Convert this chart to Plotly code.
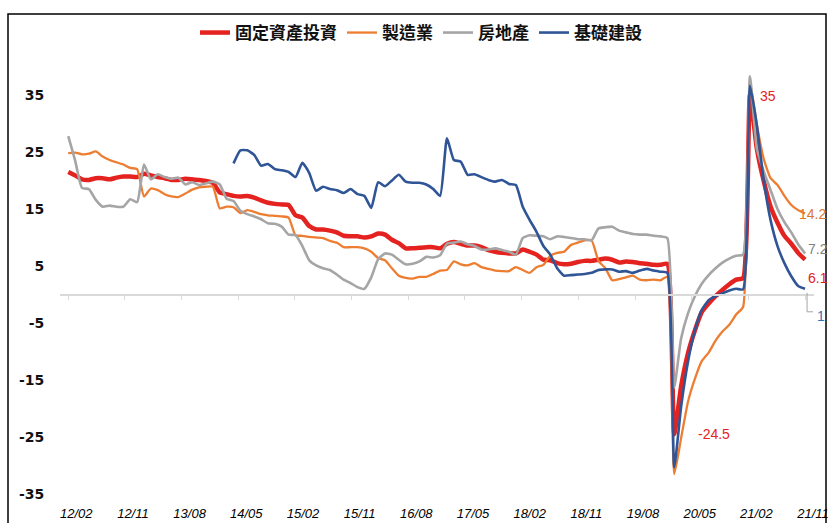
import numpy as np
import plotly.graph_objects as go

# ---- categories (monthly, January not published) ----
months = [f"{y % 100:02d}/{m:02d}" for y in range(2012, 2022) for m in range(2, 13)
          if not (y == 2021 and m > 10)]
tick_labels = ["12/02", "12/11", "13/08", "14/05", "15/02", "15/11", "16/08",
               "17/05", "18/02", "18/11", "19/08", "20/05", "21/02", "21/11"]
y_ticks = [-35, -25, -15, -5, 5, 15, 25, 35]

# ---- series (cumulative YoY, %) ----
fai = [21.5, 20.9, 20.2, 20.1, 20.4, 20.4, 20.2, 20.5, 20.7, 20.7, 20.6,
       21.2, 20.9, 20.6, 20.4, 20.1, 20.1, 20.3, 20.2, 20.1, 19.9, 19.6,
       17.9, 17.6, 17.3, 17.2, 17.3, 17.0, 16.5, 16.1, 15.9, 15.8, 15.7,
       13.9, 13.5, 12.0, 11.4, 11.4, 11.2, 10.9, 10.3, 10.2, 10.2, 10.0,
       10.2, 10.7, 10.5, 9.6, 9.0, 8.1, 8.1, 8.2, 8.3, 8.3, 8.1,
       8.9, 9.2, 8.9, 8.6, 8.6, 8.3, 7.8, 7.5, 7.3, 7.2, 7.2,
       7.9, 7.5, 7.0, 6.1, 6.0, 5.5, 5.3, 5.4, 5.7, 5.9, 5.9,
       6.1, 6.3, 6.1, 5.6, 5.8, 5.7, 5.5, 5.4, 5.2, 5.2, 5.4,
       -24.5, -16.1, -10.3, -6.3, -3.1, -1.6, -0.3, 0.8, 1.8, 2.6, 2.9,
       35.0, 25.6, 19.9, 15.4, 12.6, 10.3, 8.9, 7.3, 6.1]

manufacturing = [24.8, 24.9, 24.6, 24.7, 25.1, 24.2, 23.6, 23.2, 22.8, 22.2, 22.0,
                 17.2, 18.6, 18.3, 17.6, 17.2, 17.1, 17.7, 18.4, 18.8, 18.9, 18.9,
                 15.1, 15.4, 15.3, 14.3, 14.8, 14.5, 14.1, 13.9, 13.8, 13.7, 13.5,
                 10.4, 10.3, 10.1, 10.0, 9.9, 9.4, 9.1, 8.3, 8.3, 8.3, 8.1,
                 7.5, 6.4, 6.0, 4.6, 3.3, 2.9, 2.8, 3.1, 3.1, 3.6, 4.2,
                 4.3, 5.8, 5.3, 5.1, 5.5, 4.8, 4.5, 4.2, 4.1, 4.1, 4.8,
                 4.3, 3.8, 4.8, 5.2, 6.8, 7.3, 7.5, 8.7, 9.1, 9.5, 9.5,
                 5.9, 4.6, 2.5, 2.7, 3.0, 3.3, 2.6, 2.5, 2.6, 2.5, 3.1,
                 -31.5, -25.2, -18.8, -14.8, -11.7, -10.2, -8.1, -6.5, -5.3, -3.5, -2.2,
                 37.3, 29.8, 23.8, 20.4, 19.2, 17.3, 15.7, 14.8, 14.2]

real_estate = [27.8, 23.5, 18.7, 18.5, 16.6, 15.4, 15.6, 15.4, 15.4, 16.7, 16.2,
               22.8, 20.2, 21.1, 20.6, 20.3, 20.5, 19.3, 19.7, 19.2, 19.5, 19.8,
               19.3, 16.8, 16.4, 14.7, 14.1, 13.7, 13.2, 12.5, 12.4, 11.9, 10.5,
               10.4, 8.5, 6.0, 5.1, 4.6, 4.3, 3.5, 2.6, 2.0, 1.3, 1.0,
               3.0, 6.2, 7.2, 7.0, 6.1, 5.3, 5.4, 5.8, 6.6, 6.5, 6.9,
               8.9, 9.1, 9.3, 8.8, 8.5, 7.9, 7.9, 8.1, 7.8, 7.5, 7.0,
               9.9, 10.4, 10.3, 10.2, 9.7, 10.2, 10.1, 9.9, 9.7, 9.7, 9.5,
               11.6, 11.8, 11.9, 11.2, 10.9, 10.6, 10.5, 10.5, 10.3, 10.2, 9.9,
               -16.3, -7.7, -3.3, -0.3, 1.9, 3.4, 4.6, 5.6, 6.3, 6.8, 7.0,
               38.3, 25.6, 21.6, 18.3, 15.0, 12.7, 10.9, 8.8, 7.2]

infrastructure = [None] * 24 + [
    23.0, 25.3, 25.3, 24.5, 22.6, 22.9, 22.0, 21.8, 21.5,
    20.6, 23.1, 21.3, 18.2, 18.9, 18.5, 18.3, 17.8, 18.5, 17.6, 17.3,
    15.2, 19.7, 19.0, 20.0, 21.0, 19.8, 19.6, 19.6, 19.3, 18.5, 17.3,
    27.4, 23.6, 23.3, 21.0, 21.1, 20.6, 20.1, 19.8, 20.1, 19.4, 19.2,
    15.4, 13.1, 11.0, 8.5, 7.0, 4.6, 3.3, 3.4, 3.5, 3.6, 3.8,
    4.3, 4.4, 4.4, 4.0, 4.1, 3.8, 4.2, 4.5, 4.2, 4.0, 3.8,
    -30.3, -19.7, -11.8, -6.3, -2.7, -1.0, -0.3, 0.2, 0.7, 1.0, 0.9,
    36.6, 29.7, 20.0, 13.0, 8.5, 5.5, 3.2, 1.5, 1.0]

names = ["固定資產投資", "製造業", "房地產", "基礎建設"]
colors = ["#E42320", "#ED7D31", "#A5A5A5", "#2F5597"]
widths = [4.5, 2.3, 2.6, 2.6]
series = [fai, manufacturing, real_estate, infrastructure]

x = list(range(len(months)))
tickpos = list(np.linspace(0, len(months) - 1, len(tick_labels)))
XR = [-1.2, 108.3]
YR = [-35, 45]

fig = go.Figure()
for name, col, w, ys in zip(names, colors, widths, series):
    fig.add_trace(go.Scatter(x=x, y=ys, name=name, mode="lines",
                             line=dict(color=col, width=w, shape="spline", smoothing=0.5),
                             hoverinfo="skip"))
# invisible carrier for the zero axis
fig.add_trace(go.Scatter(x=x, y=fai, xaxis="x2", mode="none", showlegend=False, hoverinfo="skip"))

ML, MR, MT, MB = 60, 14, 38, 29
W, H = 828, 523
PW, PH = W - ML - MR, H - MT - MB

fig.update_layout(
    width=W, height=H,
    margin=dict(l=ML, r=MR, t=MT, b=MB, pad=0, autoexpand=False),
    paper_bgcolor="white", plot_bgcolor="white",
    showlegend=True,
    legend=dict(orientation="h", x=(421 - ML) / PW, xanchor="center",
                yref="container", y=1 - 33 / H, yanchor="middle",
                font=dict(family="Noto Sans CJK TC", size=17, color="#111", weight=700),
                bgcolor="rgba(0,0,0,0)", itemwidth=30, traceorder="normal"),
    xaxis=dict(range=XR, tickvals=tickpos, ticktext=[f"<i>{t}</i>" for t in tick_labels],
               ticks="outside", ticklen=7, tickcolor="rgba(0,0,0,0)", ticklabelshift=8,
               ticklabeloverflow="allow", automargin=False,
               showline=False, showgrid=False, zeroline=False,
               tickfont=dict(family="Liberation Sans", size=13, color="#000")),
    xaxis2=dict(range=XR, overlaying="x", anchor="free", position=(0 - YR[0]) / (YR[1] - YR[0]),
                showline=True, linecolor="#D9D9D9", linewidth=1.5, automargin=False,
                ticks="outside", ticklen=5, tickcolor="#D9D9D9", tickwidth=1,
                tickvals=tickpos, showticklabels=False, showgrid=False, zeroline=False),
    yaxis=dict(range=YR, tickvals=y_ticks, ticktext=[str(v) for v in y_ticks],
               showgrid=False, zeroline=False, showline=False, automargin=False,
               ticks="outside", ticklen=0, ticklabelstandoff=12,
               tickfont=dict(family="DejaVu Sans", size=14, color="#111", weight=700)),
)

# outer frame
fig.add_shape(type="rect", xref="paper", yref="paper",
              x0=(8 - ML) / PW, x1=(826 - ML) / PW,
              y0=(PH - (530 - MT)) / PH, y1=(PH - (14 - MT)) / PH,
              line=dict(color="#000", width=1.5), fillcolor="rgba(0,0,0,0)", layer="above")

# leader line for the infrastructure end label
fig.add_shape(type="path", xref="x", yref="y", xsizemode="pixel", ysizemode="pixel",
              xanchor=x[-1], yanchor=infrastructure[-1],
              path="M 2,-4 L 2,-23 L 8,-23", line=dict(color="#A5A5A5", width=1))

lab_font = "Liberation Sans"
i_max = int(np.argmax(fai))
i_min = int(np.argmin(fai))
annos = [
    (x[i_max], fai[i_max], "#E42320", 8, -1),
    (x[i_min], fai[i_min], "#E42320", 22, 0),
    (x[-1], manufacturing[-1], "#D9782E", -8, 0),
    (x[-1], real_estate[-1], "#7F7F7F", 1, 4),
    (x[-1], fai[-1], "#E42320", 1, -18),
    (x[-1], infrastructure[-1], "#2E75B6", 10, -27),
]
for ax_, ay_, col, xs, ys_ in annos:
    fig.add_annotation(x=ax_, y=ay_, xref="x", yref="y", text=f"{ay_:g}", showarrow=False,
                       xanchor="left", yanchor="middle", xshift=xs, yshift=ys_,
                       font=dict(family=lab_font, size=14, color=col))

fig.write_html("out.html")
